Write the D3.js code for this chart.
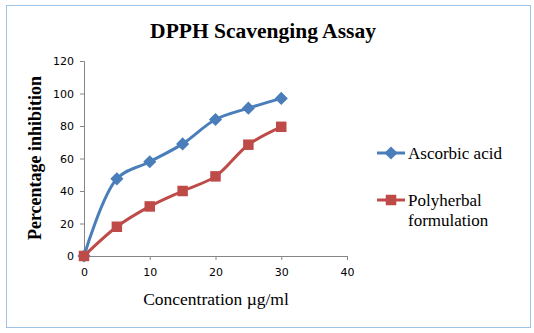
<!DOCTYPE html>
<html>
<head>
<meta charset="utf-8">
<script src="https://cdn.jsdelivr.net/npm/d3@7"></script>
<style>
  body { margin: 0; background: #fff; }
</style>
</head>
<body>
<div id="chart"></div>
<script>
const concentrations = [0, 5, 10, 15, 20, 25, 30]
const ascorbicAcid = [0, 47.5, 58, 69, 84, 91, 97]
const polyherbal = [0, 18, 30.5, 40, 49, 68.5, 79.5]
const xTicks = [0, 10, 20, 30, 40]
const yTicks = [0, 20, 40, 60, 80, 100, 120]

const W = 534, H = 333
const margin = { left: 84, top: 61, right: 187, bottom: 77 }
const width = W - margin.left - margin.right
const height = H - margin.top - margin.bottom
const serif = "'Liberation Serif', 'Times New Roman', serif"
const sans = "'DejaVu Sans', sans-serif"

const svg = d3.select("#chart")
    .append("svg")
    .attr("width", W)
    .attr("height", H)

// outer frame
svg.append("rect")
    .attr("x", 6.5).attr("y", 5.5)
    .attr("width", 524).attr("height", 322)
    .attr("fill", "#fff")
    .attr("stroke", "#9dc3e6")
    .attr("stroke-width", 1)

svg.append("text")
    .attr("x", 263).attr("y", 38)
    .attr("text-anchor", "middle")
    .style("font-family", serif)
    .style("font-weight", "bold")
    .style("font-size", "21.5px")
    .text("DPPH Scavenging Assay")

const g = svg.append("g")
    .attr("transform", `translate(${margin.left}, ${margin.top})`)

const x = d3.scaleLinear().domain([0, 40]).range([0, width])
const y = d3.scaleLinear().domain([0, 120]).range([height, 0])

const axisColor = "#868686"

const yAxis = g.append("g")
    .call(d3.axisLeft(y).tickValues(yTicks).tickSize(4).tickPadding(6))
yAxis.select(".domain").attr("stroke", axisColor)
yAxis.selectAll(".tick line").attr("stroke", axisColor)
yAxis.selectAll(".tick text")
    .style("font-family", sans)
    .style("font-size", "11px")
    .attr("fill", "#000")

const xAxis = g.append("g")
    .attr("transform", `translate(0, ${height})`)
    .call(d3.axisBottom(x).tickValues(xTicks).tickSize(4).tickPadding(8))
xAxis.select(".domain").attr("stroke", axisColor)
xAxis.selectAll(".tick line").attr("stroke", axisColor)
xAxis.selectAll(".tick text")
    .style("font-family", sans)
    .style("font-size", "11px")
    .attr("fill", "#000")

// axis titles
svg.append("text")
    .attr("x", 216).attr("y", 305)
    .attr("text-anchor", "middle")
    .style("font-family", serif)
    .style("font-size", "17.5px")
    .text("Concentration \u00b5g/ml")

svg.append("text")
    .attr("transform", "translate(41, 158) rotate(-90)")
    .attr("text-anchor", "middle")
    .style("font-family", serif)
    .style("font-weight", "bold")
    .style("font-size", "18px")
    .text("Percentage inhibition")

const series = [
    { name: "Ascorbic acid", values: ascorbicAcid, color: "#4a7ebb", marker: d3.symbolDiamond2, size: 110 },
    { name: "Polyherbal formulation", values: polyherbal, color: "#be4b48", marker: d3.symbolSquare, size: 110 }
]

const line = d3.line()
    .x(d => x(d[0]))
    .y(d => y(d[1]))
    .curve(d3.curveCatmullRom.alpha(0.5))

series.forEach(s => {
    const pts = concentrations.map((c, i) => [c, s.values[i]])
    g.append("path")
        .datum(pts)
        .attr("fill", "none")
        .attr("stroke", s.color)
        .attr("stroke-width", 3)
        .attr("d", line)
    g.append("g")
        .selectAll("path")
        .data(pts)
        .join("path")
        .attr("transform", d => `translate(${x(d[0])}, ${y(d[1])})`)
        .attr("d", d3.symbol(s.marker, s.size))
        .attr("fill", s.color)
})

// legend
const legend = svg.append("g")
const legendRows = [
    { s: series[0], y: 153, lines: ["Ascorbic acid"] },
    { s: series[1], y: 200, lines: ["Polyherbal", "formulation"] }
]
legendRows.forEach(r => {
    legend.append("line")
        .attr("x1", 377).attr("x2", 405)
        .attr("y1", r.y).attr("y2", r.y)
        .attr("stroke", r.s.color)
        .attr("stroke-width", 3)
    legend.append("path")
        .attr("transform", `translate(391, ${r.y})`)
        .attr("d", d3.symbol(r.s.marker, r.s.size))
        .attr("fill", r.s.color)
    r.lines.forEach((t, i) => {
        legend.append("text")
            .attr("x", 408).attr("y", r.y + 6 + i * 20)
            .style("font-family", serif)
            .style("font-size", "17px")
            .text(t)
    })
})
</script>
</body>
</html>
